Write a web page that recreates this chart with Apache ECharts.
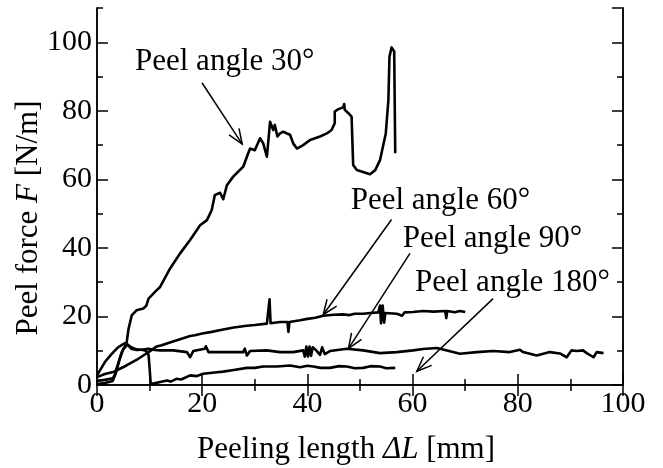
<!DOCTYPE html>
<html><head><meta charset="utf-8">
<script src="https://cdn.jsdelivr.net/npm/echarts@6/dist/echarts.min.js"></script>
<style>html,body{margin:0;padding:0;background:#fff}#c{width:663px;height:468px}</style>
</head><body><div id="c"></div>
<script>
// ---- data (x = peeling length ΔL [mm], y = peel force F [N/m]) ----
const xTickLabels = ['0','20','40','60','80','100'];
const yTickLabels = ['0','20','40','60','80','100'];

const angle30 = [[0,1.2],[1.5,1.5],[3.0,2.0],[3.4,3],[3.7,4.7],[4.7,9.6],[5.6,12],[6.0,16.4],[6.6,20.3],[7.5,21.8],[8.8,22.3],[9.4,23.2],[9.8,25.2],[11.3,27.6],[12.0,28.6],[13.9,34],[15.8,38.4],[17.7,42.3],[19.6,46.6],[20.9,48.1],[21.8,51],[22.4,55.4],[23.4,56.1],[24.0,54.2],[24.7,58.3],[25.9,60.8],[27.8,63.7],[28.5,66.6],[29.1,69],[30.0,68.5],[31.0,72],[31.6,70.5],[32.3,66.6],[32.9,76.8],[33.5,74.4],[33.8,75.9],[34.3,72.5],[34.8,73.4],[35.4,73.9],[36.1,73.4],[36.7,73.0],[37.3,70.5],[38.0,69],[39.2,70],[40.5,71.5],[42.4,72.5],[43.7,73.4],[44.6,74.4],[45.2,76.4],[45.2,79.8],[45.9,80.5],[46.8,81.0],[47.0,82],[47.1,80.3],[47.8,79.3],[48.4,78.3],[48.7,77.8],[48.7,64.2],[49.4,62.7],[51.9,61.5],[52.9,62.7],[53.8,65.6],[54.9,73.4],[55.4,83.2],[55.6,95.8],[56.0,98.5],[56.5,97.3],[56.7,67.6]];

const angle60 = [[0,2.3],[1.5,3.2],[3.1,3.8],[5.6,5.7],[7.5,7.3],[8.8,8.6],[9.8,9.6],[11.3,11.2],[12.3,11.6],[14,12.5],[15.5,13.2],[17.7,14.3],[18.6,14.5],[20,15],[21.8,15.5],[24,16.2],[26,16.8],[28.5,17.3],[30,17.5],[32.3,17.9],[32.6,17.9],[32.8,25],[33.0,18],[34.8,18.4],[36.2,18.4],[36.4,15.5],[36.6,18.4],[38.6,18.9],[40,19.3],[41.5,19.6],[43,20.2],[45,20.5],[46.8,20.6],[48,20.4],[49,20.8],[50.6,20.8],[52,21],[53.5,21.2],[53.8,23.2],[54.0,18.0],[54.3,23.2],[54.6,18.2],[54.8,21],[57,20.8],[58,20.2],[58.5,21.2],[60.1,21.3],[62,21.6],[64,21.4],[66.2,21.6],[66.4,19.5],[66.6,21.6],[68,21.2],[69,21.6],[70,21.3]];

const angle90 = [[0,2.8],[1.5,6.7],[2.8,9.1],[4,11],[5.3,12.2],[5.8,11.8],[6.5,10.6],[7.5,10.2],[8.5,10.3],[9.8,10.6],[11,10.2],[12,10.1],[14.5,10.1],[17.1,9.6],[17.7,8.1],[18.3,9.9],[20.5,10.6],[20.7,11.3],[21.2,9.6],[24,9.6],[27.8,9.6],[28.1,10.6],[28.5,8.6],[29.1,9.9],[32.3,10.1],[34.8,9.6],[37.3,9.6],[39.2,10.1],[39.5,8.3],[39.8,11.2],[40.1,8.3],[40.4,11.2],[40.7,8.5],[41,11],[41.8,9.9],[42.4,8.8],[42.8,11],[43.3,9],[44.3,9.9],[47.5,10.6],[50.6,10.1],[53.8,9.3],[57,9.6],[60.1,10.1],[62,10.5],[64.6,10.8],[67.7,9.6],[69,9.1],[72.2,9.6],[75.3,9.9],[78.5,9.6],[80.4,10.3],[81,9.6],[83.6,8.6],[86.1,9.6],[88,9.2],[89.3,8.1],[90.2,10.1],[91.2,9.9],[92.4,10.1],[93.1,9.3],[94.4,8.1],[95,9.6],[96.3,9.3]];

const angle180 = [[0,0.3],[1.5,0.6],[3.0,1.2],[3.6,3.5],[4.3,7.5],[5,10.5],[5.8,11.8],[6.5,11],[7.5,10.4],[8.5,10.3],[9.3,10.0],[9.8,8.8],[10.0,5],[10.2,0.5],[10.7,0.4],[12,0.9],[13.3,1.3],[14,1.0],[15.1,1.8],[16,1.6],[17.7,2.8],[19,2.6],[20.2,3.3],[22.8,3.7],[24,3.9],[26,4.4],[28.5,5.0],[30,5.0],[31.6,5.4],[34.2,5.4],[36.7,5.7],[38.6,5.2],[40,5.6],[41.1,5.4],[42.5,5.0],[44.3,5.0],[46,5.5],[47.5,5.4],[49,4.9],[50.6,5.0],[52,5.5],[53.8,5.4],[55,4.9],[56.7,5.0]];

// annotation arrows: [x0, y0, x1(tip), y1(tip)] in data units
const arrows = [[19.96,88.2,27.6,70.3],[56.0,48.3,43.0,20.5],[59.5,38.4,47.8,10.6],[75.3,25.2,60.8,4.0]];
const annotationTexts = ['Peel angle 30°','Peel angle 60°','Peel angle 90°','Peel angle 180°'];

// ---- chart ----
const FONT = '"Liberation Serif","Times New Roman",serif';
const chart = echarts.init(document.getElementById('c'), null, {renderer:'canvas'});
const axisLine = {show:true, lineStyle:{color:'#000', width:1.5}};
function xAx(pos, showLabel){
  return {type:'value', position:pos, min:0, max:100, interval:20,
    axisLine, splitLine:{show:false},
    axisTick:{show:true, inside:true, length:11, lineStyle:{color:'#000', width:1.5}},
    minorTick:{show:true, splitNumber:2, length:6, lineStyle:{color:'#000', width:1.5}},
    axisLabel:{show:showLabel, margin:4, color:'#000', fontFamily:FONT, fontSize:30,
      formatter:(v)=>xTickLabels[Math.round(v/20)] ?? ''}};
}
function yAx(pos, interval, len, showLabel){
  return {type:'value', position:pos, min:0, max:110, interval:interval,
    axisLine, splitLine:{show:false},
    axisTick:{show:true, inside:true, length:len, lineStyle:{color:'#000', width:1.5}},
    axisLabel:{show:showLabel, margin:5, color:'#000', fontFamily:FONT, fontSize:30, showMaxLabel:false,
      formatter:(v)=> (v%20===0 && v<=100) ? yTickLabels[v/20] : ''}};
}
function lineSeries(data){
  return {type:'line', data:data, xAxisIndex:0, yAxisIndex:0, showSymbol:false, symbol:'none',
    lineStyle:{color:'#000', width:2.6, join:'round'}, animation:false, silent:true, clip:true};
}
function annText(x, y, s){
  return {type:'text', x:x, y:y, style:{text:s, fontFamily:FONT, fontSize:31, fill:'#000', verticalAlign:'middle'}};
}
const option = {
  animation:false,
  grid:{left:97, right:40, top:8, bottom:83, containLabel:false},
  xAxis:[xAx('bottom', true), xAx('top', false)],
  yAxis:[yAx('left',20,11,true), yAx('left',10,6,false), yAx('right',20,11,false), yAx('right',10,6,false)],
  series:[
    lineSeries(angle30), lineSeries(angle60), lineSeries(angle90), lineSeries(angle180),
    {type:'custom', xAxisIndex:0, yAxisIndex:0, data:arrows, clip:false, silent:true,
     encode:{x:[0,2], y:[1,3]},
     renderItem:function(params, api){
       const p0 = api.coord([api.value(0), api.value(1)]);
       const p1 = api.coord([api.value(2), api.value(3)]);
       const ang = Math.atan2(p0[1]-p1[1], p0[0]-p1[0]);
       const L = 16, h = 0.38;
       const a = [p1[0]+L*Math.cos(ang+h), p1[1]+L*Math.sin(ang+h)];
       const b = [p1[0]+L*Math.cos(ang-h), p1[1]+L*Math.sin(ang-h)];
       return {type:'group', children:[
         {type:'line', shape:{x1:p0[0],y1:p0[1],x2:p1[0],y2:p1[1]}, style:{stroke:'#000', lineWidth:1.5}},
         {type:'polyline', shape:{points:[a,p1,b]}, style:{stroke:'#000', fill:null, lineWidth:1.5}}
       ]};
     }}
  ],
  graphic:[
    {type:'text', x:346, y:450, style:{text:'{a|Peeling length }{i|ΔL}{a| [mm]}', align:'center', verticalAlign:'middle',
      rich:{a:{fontFamily:FONT, fontSize:31, fill:'#000'}, i:{fontFamily:FONT, fontSize:31, fontStyle:'italic', fill:'#000'}}}},
    {type:'text', x:29, y:218, rotation:Math.PI/2, style:{text:'{a|Peel force }{i|F}{a| [N/m]}', align:'center', verticalAlign:'middle',
      rich:{a:{fontFamily:FONT, fontSize:31, fill:'#000'}, i:{fontFamily:FONT, fontSize:31, fontStyle:'italic', fill:'#000'}}}},
    annText(135, 61.5, annotationTexts[0]),
    annText(350.7, 201.2, annotationTexts[1]),
    annText(402.7, 238.8, annotationTexts[2]),
    annText(415, 282.5, annotationTexts[3])
  ]
};
chart.setOption(option);
</script></body></html>
